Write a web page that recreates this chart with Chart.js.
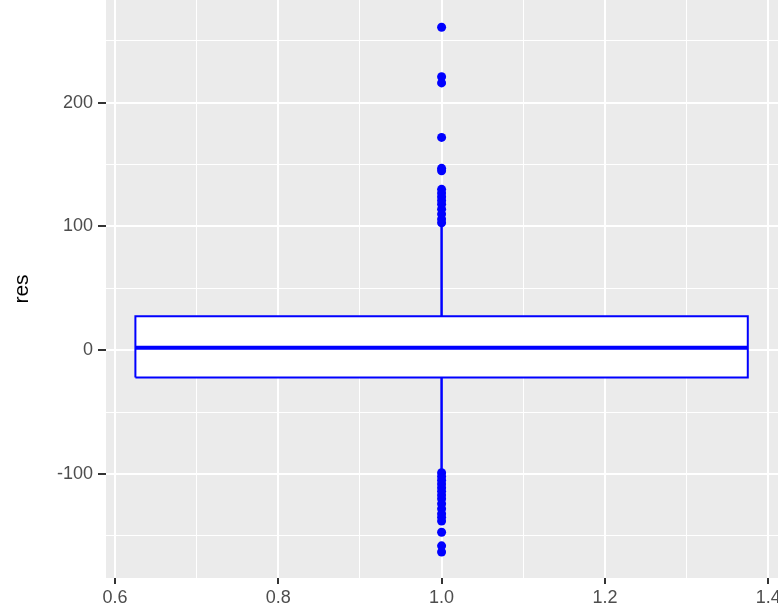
<!DOCTYPE html>
<html lang="en">
<head>
    <meta charset="UTF-8">
    <title>res boxplot</title>
    <script src="https://cdn.jsdelivr.net/npm/chart.js"></script>
    <style>
        body { margin: 0; background: #ffffff; }
        #wrap { width: 778px; height: 615px; }
    </style>
</head>
<body>
    <div id="wrap">
        <canvas id="resChart"></canvas>
    </div>
    <script>
        // box summary for res (one group at x = 1)
        const groupX = 1;
        const boxLeft = 0.625;
        const boxRight = 1.375;
        const q1 = -22;
        const median = 2;
        const q3 = 27.5;
        const whiskerLow = -96;
        const whiskerHigh = 100;

        const upperOutliers = [261, 221, 216, 172, 147, 145, 130, 127, 124, 121, 118, 114, 110, 106, 103];
        const lowerOutliers = [-99, -102, -105, -108, -111, -114, -117, -120, -124, -128, -132, -135, -138, -147, -158, -163];

        const xTicks = [0.6, 0.8, 1.0, 1.2, 1.4];
        const yTicks = [-100, 0, 100, 200];

        const blue = '#0000ff';
        const tickFont = { family: 'Liberation Sans', size: 18 };

        const outlierPoints = upperOutliers.concat(lowerOutliers).map(v => ({ x: groupX, y: v }));

        const panelBg = {
            id: 'panelBg',
            beforeDraw(chart) {
                const a = chart.chartArea;
                const c = chart.ctx;
                c.save();
                c.fillStyle = '#ebebeb';
                c.fillRect(a.left, a.top, a.right - a.left, a.bottom - a.top);
                c.restore();
            }
        };

        const isMajorX = v => xTicks.some(t => Math.abs(t - v) < 1e-6);
        const isMajorY = v => yTicks.includes(Math.round(v));

        // datasets are painted last-to-first, so the box fill goes at the end
        const ctx = document.getElementById('resChart').getContext('2d');
        const resChart = new Chart(ctx, {
            type: 'line',
            data: {
                datasets: [
                    {   // outliers
                        data: outlierPoints,
                        showLine: false,
                        pointRadius: 4.5,
                        pointBackgroundColor: blue,
                        pointBorderColor: blue,
                        pointBorderWidth: 0
                    },
                    {   // median
                        data: [{ x: boxLeft, y: median }, { x: boxRight, y: median }],
                        borderColor: blue,
                        borderWidth: 4,
                        pointRadius: 0
                    },
                    {   // box outline
                        data: [
                            { x: boxLeft, y: q1 }, { x: boxLeft, y: q3 },
                            { x: boxRight, y: q3 }, { x: boxRight, y: q1 },
                            { x: boxLeft, y: q1 }
                        ],
                        borderColor: blue,
                        borderWidth: 2,
                        pointRadius: 0,
                        tension: 0
                    },
                    {   // whiskers
                        data: [{ x: groupX, y: q3 }, { x: groupX, y: whiskerHigh }],
                        borderColor: blue,
                        borderWidth: 2.5,
                        pointRadius: 0
                    },
                    {
                        data: [{ x: groupX, y: q1 }, { x: groupX, y: whiskerLow }],
                        borderColor: blue,
                        borderWidth: 2.5,
                        pointRadius: 0
                    },
                    {   // box bottom edge
                        data: [{ x: boxLeft, y: q1 }, { x: boxRight, y: q1 }],
                        fill: false,
                        borderWidth: 0,
                        pointRadius: 0
                    },
                    {   // box top edge, filled down to the bottom edge
                        data: [{ x: boxLeft, y: q3 }, { x: boxRight, y: q3 }],
                        fill: '-1',
                        backgroundColor: '#ffffff',
                        borderWidth: 0,
                        pointRadius: 0
                    }
                ]
            },
            options: {
                responsive: true,
                maintainAspectRatio: false,
                animation: false,
                layout: { padding: 0, autoPadding: false },
                plugins: {
                    legend: { display: false },
                    tooltip: { enabled: false }
                },
                scales: {
                    x: {
                        type: 'linear',
                        min: 0.589,
                        max: 1.412,
                        border: { display: false },
                        grid: {
                            color: '#ffffff',
                            lineWidth: c => isMajorX(c.tick.value) ? 2 : 1,
                            tickLength: 6,
                            tickWidth: 2,
                            tickColor: c => isMajorX(c.tick.value) ? '#333333' : 'rgba(0,0,0,0)'
                        },
                        ticks: {
                            stepSize: 0.1,
                            includeBounds: false,
                            maxRotation: 0,
                            autoSkip: false,
                            padding: 3,
                            color: '#4d4d4d',
                            font: tickFont,
                            callback: v => isMajorX(v) ? v.toFixed(1) : ''
                        },
                        afterFit(scale) {
                            scale.height = 37;
                            scale.paddingLeft = 0;
                            scale.paddingRight = 0;
                        }
                    },
                    y: {
                        min: -184,
                        max: 283,
                        border: { display: false },
                        grid: {
                            color: '#ffffff',
                            lineWidth: c => isMajorY(c.tick.value) ? 2 : 1,
                            tickLength: 8,
                            tickWidth: 2,
                            tickColor: c => isMajorY(c.tick.value) ? '#333333' : 'rgba(0,0,0,0)'
                        },
                        ticks: {
                            stepSize: 50,
                            includeBounds: false,
                            autoSkip: false,
                            padding: 5,
                            color: '#4d4d4d',
                            font: tickFont,
                            callback: v => isMajorY(v) ? String(v) : ''
                        },
                        title: {
                            display: true,
                            text: 'res',
                            color: '#000000',
                            font: { family: 'Liberation Sans', size: 21 },
                            padding: { top: 10, bottom: 0 }
                        },
                        afterFit(scale) {
                            scale.width = 106;
                            scale.paddingTop = 0;
                            scale.paddingBottom = 0;
                        }
                    }
                }
            },
            plugins: [panelBg]
        });
    </script>
</body>
</html>
